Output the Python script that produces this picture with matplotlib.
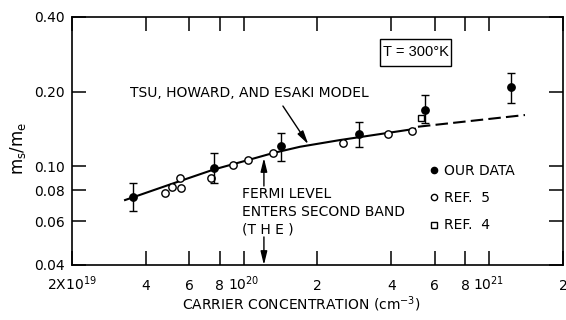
import matplotlib
matplotlib.use("Agg")
import matplotlib.pyplot as plt
from matplotlib.lines import Line2D
from matplotlib.patches import Rectangle
from matplotlib.ticker import NullLocator

plt.rcParams['font.family'] = ['DejaVu Sans']

# our data (filled circles) with error bars
our_n = [3.53e19, 7.55e19, 1.42e20, 2.95e20, 5.48e20, 1.23e21]
our_m = [0.0750, 0.0987, 0.1213, 0.1346, 0.1687, 0.2083]
our_lo = [0.0660, 0.0856, 0.1055, 0.1200, 0.1488, 0.1805]
our_hi = [0.0854, 0.1135, 0.1358, 0.1513, 0.1940, 0.2370]

# ref. 5 (open circles)
ref5_n = [4.79e19, 5.13e19, 5.51e19, 5.56e19, 7.35e19, 9.03e19, 1.04e20,
          1.32e20, 2.53e20, 3.88e20, 4.84e20]
ref5_m = [0.0782, 0.0827, 0.0894, 0.0815, 0.0894, 0.1012, 0.1060,
          0.1128, 0.1245, 0.1346, 0.1388]

# ref. 4 (open square)
ref4_n = [5.26e20]
ref4_m = [0.1573]

# Tsu, Howard and Esaki model, solid part and dashed extension
model_n = [3.29e19, 5.02e19, 7.57e19, 1.062e20, 1.318e20, 1.698e20, 2.47e20, 3.60e20, 4.99e20]
model_m = [0.0731, 0.0845, 0.0971, 0.1065, 0.1131, 0.1199, 0.1276, 0.1349, 0.1416]
model_ext_n = [5.13e20, 1.40e21]
model_ext_m = [0.1444, 0.1610]

xticks = [2e19, 4e19, 6e19, 8e19, 1e20, 2e20, 4e20, 6e20, 8e20, 1e21, 2e21]
xticklabels = ['2X$\\mathregular{10^{19}}$', '4', '6', '8', '$\\mathregular{10^{20}}$',
               '2', '4', '6', '8', '$\\mathregular{10^{21}}$', '2']
yticks = [0.04, 0.06, 0.08, 0.10, 0.20, 0.40]
yticklabels = ['0.04', '0.06', '0.08', '0.10', '0.20', '0.40']

fig, ax = plt.subplots(figsize=(5.66, 3.2), dpi=100)
fig.subplots_adjust(left=0.1272, right=0.9947, bottom=0.1719, top=0.9469)
ax.set_xscale('log')
ax.set_yscale('log')
ax.set_xlim(2e19, 2e21)
ax.set_ylim(0.04, 0.40)

ax.plot(model_n, model_m, color='black', lw=1.5, zorder=2)
ax.plot(model_ext_n, model_ext_m, color='black', lw=1.5, ls=(0, (6, 2.5)), zorder=2)

yerr = [[m - lo for m, lo in zip(our_m, our_lo)],
        [hi - m for m, hi in zip(our_m, our_hi)]]
ax.errorbar(our_n, our_m, yerr=yerr, fmt='o', ms=5.3, color='black',
            elinewidth=1, capsize=2.8, capthick=1, zorder=4)
ax.plot(ref5_n, ref5_m, 'o', ls='none', ms=5.3, mfc='white', mec='black', mew=1, zorder=3)
ax.plot(ref4_n, ref4_m, 's', ls='none', ms=5, mfc='white', mec='black', mew=1, zorder=3)

ax.set_xticks(xticks)
ax.set_xticklabels(xticklabels, va='baseline')
ax.set_yticks(yticks)
ax.set_yticklabels(yticklabels)
ax.xaxis.set_minor_locator(NullLocator())
ax.yaxis.set_minor_locator(NullLocator())
ax.tick_params(axis='both', direction='in', top=True, right=True,
               length=10, width=1.1, labelsize=10)
ax.tick_params(axis='x', pad=18)
ax.tick_params(axis='y', pad=5)
for s in ax.spines.values():
    s.set_linewidth(1.2)

ax.set_xlabel('CARRIER CONCENTRATION (cm$\\mathregular{^{-3}}$)', fontsize=10)
ax.xaxis.set_label_coords(0.468, -0.12)
ax.set_ylabel('$\\mathregular{m_s/m_e}$', fontsize=12)
ax.yaxis.set_label_coords(-0.09, 0.47)

# annotations
head = '-|>,head_length=0.9,head_width=0.22'
ax.text(3.44e19, 0.1975, 'TSU, HOWARD, AND ESAKI MODEL', ha='left', va='center', fontsize=10)
ax.annotate('', xy=(1.835e20, 0.1227), xytext=(1.446e20, 0.175),
            arrowprops=dict(arrowstyle=head, color='black', lw=1, mutation_scale=9,
                            shrinkA=0, shrinkB=0))

ax.text(0.3456, 0.315, 'FERMI LEVEL\nENTERS SECOND BAND\n(T H E )', transform=ax.transAxes,
        ha='left', va='top', fontsize=10, linespacing=1.35)
ax.annotate('', xy=(1.21e20, 0.108), xytext=(1.21e20, 0.0833),
            arrowprops=dict(arrowstyle=head, color='black', lw=1, mutation_scale=9,
                            shrinkA=0, shrinkB=0))
ax.annotate('', xy=(1.21e20, 0.04), xytext=(1.21e20, 0.0519),
            arrowprops=dict(arrowstyle=head, color='black', lw=1, mutation_scale=9,
                            shrinkA=0, shrinkB=0))

ax.add_patch(Rectangle((0.627, 0.802), 0.1446, 0.1089, transform=ax.transAxes,
                       fc='white', ec='black', lw=1, zorder=5))
ax.text(0.6996, 0.857, 'T = 300°K', transform=ax.transAxes, ha='center', va='center',
        fontsize=10.5, family=['Liberation Sans', 'DejaVu Sans'], zorder=6)

handles = [Line2D([], [], ls='none', marker='o', ms=4.5, color='black'),
           Line2D([], [], ls='none', marker='o', ms=4.5, mfc='white', mec='black'),
           Line2D([], [], ls='none', marker='s', ms=4.5, mfc='white', mec='black')]
ax.legend(handles, ['OUR DATA', 'REF.  5', 'REF.  4'], loc='upper left',
          bbox_to_anchor=(0.730, 0.407), frameon=False, handlelength=0.5,
          handletextpad=0.5, labelspacing=0.95, borderpad=0, borderaxespad=0,
          fontsize=10)

fig.savefig('out.png', dpi=100)
